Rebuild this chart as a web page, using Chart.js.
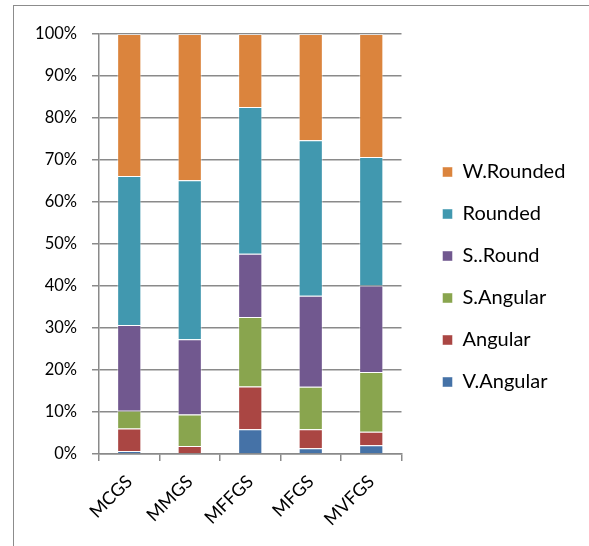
<!DOCTYPE html>
<html>
<head>
<meta charset="utf-8">
<script src="https://cdn.jsdelivr.net/npm/chart.js@4/dist/chart.umd.min.js"></script>
<style>
  html, body { margin: 0; padding: 0; background: #fff; }
  .frame { position: absolute; left: 13px; top: 5px; width: 620px; height: 600px; border: 1px solid #8c8c8c; }
  .chart-container { position: absolute; left: 0; top: 0; width: 589px; height: 546px; }
</style>
</head>
<body>
<div class="frame"></div>
<div class="chart-container"><canvas id="chart" width="589" height="546"></canvas></div>
<script>
const categories = ['MCGS', 'MMGS', 'MFFGS', 'MFGS', 'MVFGS'];
const vAngular = [0.7, 0, 5.9, 1.35, 2.1];
const angular = [5.4, 1.9, 10.2, 4.55, 3.2];
const sAngular = [4.2, 7.5, 16.5, 10.1, 14.2];
const sRound = [20.4, 17.9, 15.1, 21.7, 20.6];
const rounded = [35.5, 37.9, 34.9, 37.0, 30.6];
const wRounded = [33.8, 34.8, 17.4, 25.3, 29.3];
const yTicks = [0, 10, 20, 30, 40, 50, 60, 70, 80, 90, 100];

const family = 'Lato, "Open Sans", sans-serif';
const gridColor = '#8a8a8a';

const series = [
    ['V.Angular', vAngular, '#4572A7'],
    ['Angular', angular, '#AA4643'],
    ['S.Angular', sAngular, '#89A54E'],
    ['S..Round', sRound, '#71588F'],
    ['Rounded', rounded, '#4198AF'],
    ['W.Rounded', wRounded, '#DB843D']
];

new Chart(document.getElementById('chart'), {
    type: 'bar',
    data: {
        labels: categories,
        datasets: series.map(([label, data, color]) => ({
            label: label,
            data: data,
            backgroundColor: color,
            borderColor: 'rgba(255,255,255,0.45)',
            borderWidth: 1,
            categoryPercentage: 1,
            barPercentage: 0.4
        }))
    },
    options: {
        responsive: false,
        animation: false,
        devicePixelRatio: 1,
        // negative left padding widens the layout budget so the legend is not squeezed
        layout: { padding: { left: -40, top: 34, right: 15, bottom: 0 } },
        scales: {
            x: {
                stacked: true,
                afterFit: (s) => { s.height = 92; },
                grid: { offset: true, drawOnChartArea: false, drawTicks: true, tickLength: 7, color: gridColor, lineWidth: 1.5 },
                border: { color: gridColor, width: 1.5 },
                ticks: { color: '#000', font: { family: family, size: 18 }, maxRotation: 45, minRotation: 45, padding: 10 }
            },
            y: {
                stacked: true,
                min: 0,
                max: 100,
                afterFit: (s) => { s.width = 139; },
                afterBuildTicks: (scale) => { scale.ticks = yTicks.map(v => ({ value: v })); },
                grid: { color: gridColor, lineWidth: 1.5, tickLength: 7 },
                border: { color: gridColor, width: 1.5 },
                ticks: { color: '#000', font: { family: family, size: 16.5 }, padding: 15, callback: (v) => v + '%' }
            },
            // empty strip that keeps the legend clear of the plot
            gap: {
                type: 'linear',
                position: 'right',
                display: false,
                afterFit: (s) => { s.width = 19; }
            }
        },
        plugins: {
            legend: {
                position: 'right',
                reverse: true,
                align: 'start',
                // blank title used only as a top spacer for the legend column
                title: { display: true, text: '', font: { size: 12, lineHeight: 1 }, padding: { top: 94, bottom: 0 } },
                labels: {
                    color: '#000',
                    font: { family: family, size: 20 },
                    boxWidth: 10,
                    boxHeight: 10,
                    padding: 22
                }
            },
            tooltip: { enabled: false }
        }
    }
});
</script>
</body>
</html>
